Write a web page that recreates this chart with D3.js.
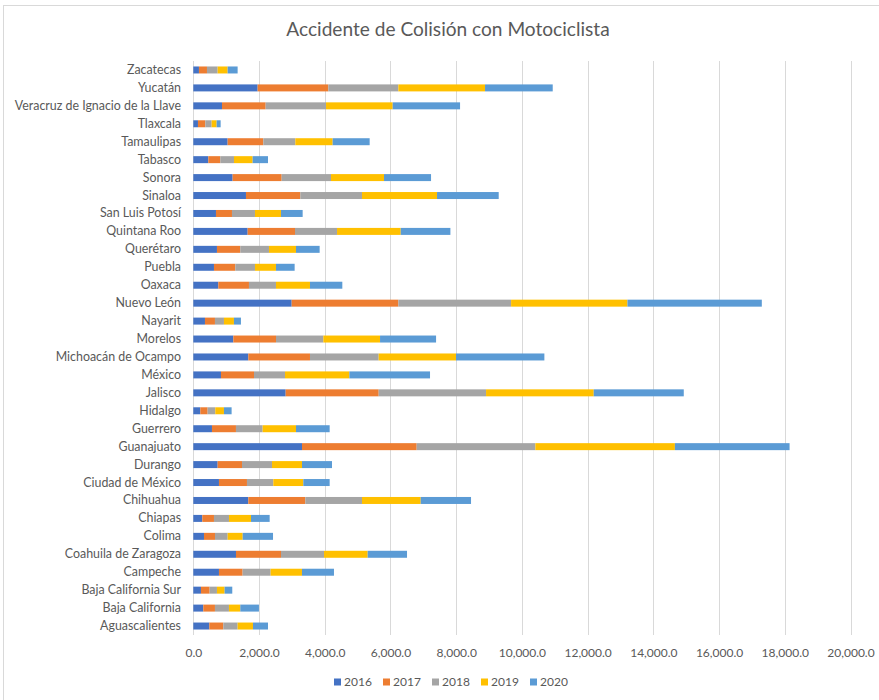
<!DOCTYPE html>
<html><head><meta charset="utf-8">
<script src="https://cdn.jsdelivr.net/npm/d3@7"></script>
<style>body{margin:0;background:#fff;} svg{display:block;font-family:Lato,"Open Sans",sans-serif;}</style>
</head><body>
<svg id="c" width="879" height="700"></svg>
<script>
const title = "Accidente de Colisión con Motociclista";
const states = ["Zacatecas","Yucatán","Veracruz de Ignacio de la Llave","Tlaxcala","Tamaulipas","Tabasco","Sonora","Sinaloa","San Luis Potosí","Quintana Roo","Querétaro","Puebla","Oaxaca","Nuevo León","Nayarit","Morelos","Michoacán de Ocampo","México","Jalisco","Hidalgo","Guerrero","Guanajuato","Durango","Ciudad de México","Chihuahua","Chiapas","Colima","Coahuila de Zaragoza","Campeche","Baja California Sur","Baja California","Aguascalientes"];
const years = ["2016","2017","2018","2019","2020"];
const v2016 = [172,1958,873,142,1045,457,1197,1603,690,1654,720,629,761,2994,355,1218,1674,842,2811,213,568,3308,741,781,1674,274,325,1299,781,233,304,487];
const v2017 = [244,2151,1329,223,1086,365,1492,1654,487,1441,710,649,933,3247,304,1299,1877,1005,2831,223,730,3490,741,852,1735,355,335,1370,720,264,355,426];
const v2018 = [325,2131,1837,193,974,416,1502,1877,700,1279,873,599,822,3430,274,1441,2090,944,3267,233,812,3612,913,802,1725,457,386,1309,852,223,426,436];
const v2019 = [304,2638,2029,152,1136,568,1613,2283,791,1938,822,639,1035,3541,304,1725,2354,1958,3277,264,1015,4246,913,913,1786,670,457,1329,954,233,345,467];
const v2020 = [304,2060,2050,122,1126,467,1431,1877,660,1512,720,568,984,4089,213,1705,2689,2455,2740,233,1025,3490,913,802,1532,568,923,1197,974,233,568,457];
const xTicks = [0,2000,4000,6000,8000,10000,12000,14000,16000,18000,20000];
const colors = ["#4472C4","#ED7D31","#A5A5A5","#FFC000","#5B9BD5"];

const series = [v2016,v2017,v2018,v2019,v2020];
const rows = states.map((s,i)=>{const o={state:s}; years.forEach((y,k)=>o[y]=series[k][i]); return o;});
const stacked = d3.stack().keys(years)(rows);

const svg = d3.select("#c");
svg.append("rect").attr("x",3.5).attr("y",5.5).attr("width",900).attr("height",800)
  .attr("fill","#fff").attr("stroke","#d9d9d9").attr("stroke-width",1);

const x = d3.scaleLinear().domain([0,20000]).range([193.3,850.5]);
const y = d3.scaleBand().domain(states).range([61,635]).paddingInner(0.61).paddingOuter(0.305);

// gridlines
svg.append("g").selectAll("line").data(xTicks).join("line")
  .attr("x1",d=>Math.round(x(d))+0.5).attr("x2",d=>Math.round(x(d))+0.5)
  .attr("y1",61).attr("y2",635).attr("stroke","#d9d9d9").attr("stroke-width",1);

// bars
svg.append("g").selectAll("g").data(stacked).join("g")
  .attr("fill",(d,i)=>colors[i])
  .selectAll("rect").data(d=>d).join("rect")
  .attr("x",d=>x(d[0])).attr("width",d=>x(d[1])-x(d[0]))
  .attr("y",d=>y(d.data.state)).attr("height",y.bandwidth());

// x axis labels
const xa = svg.append("g").attr("transform","translate(0,653)")
  .call(d3.axisBottom(x).tickValues(xTicks).tickFormat(d3.format(",.1f")).tickSize(0).tickPadding(0));
xa.select(".domain").remove();
xa.selectAll("text").attr("fill","#595959").style("font-size","12px").style("font-family","Lato,sans-serif").attr("dy","0.35em").attr("y",0);

// y axis labels
const ya = svg.append("g").attr("transform","translate(181,0)")
  .call(d3.axisLeft(y).tickSize(0).tickPadding(0));
ya.select(".domain").remove();
ya.selectAll("text").attr("fill","#595959").style("font-size","12.4px").style("font-family","Lato,sans-serif");

// title
svg.append("text").attr("x",448).attr("y",31).attr("text-anchor","middle").attr("dominant-baseline","middle")
  .attr("fill","#595959").style("font-size","19.1px").text(title);

// legend
const lg = svg.append("g").selectAll("g").data(years).join("g")
  .attr("transform",(d,i)=>`translate(${334+i*49},682)`);
lg.append("rect").attr("x",0).attr("y",-3.5).attr("width",7).attr("height",7).attr("fill",(d,i)=>colors[i]);
lg.append("text").attr("x",10).attr("y",0).attr("dy","0.35em").attr("fill","#595959").style("font-size","12px").text(d=>d);
</script>
</body></html>
